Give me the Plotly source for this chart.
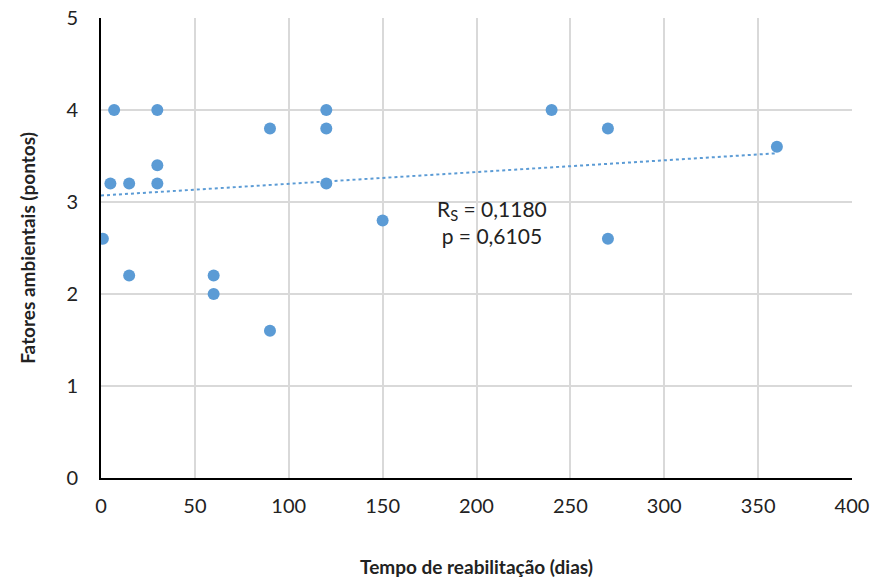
import plotly.graph_objects as go

tempo = [1, 5, 7, 15, 15, 30, 30, 30, 60, 60, 90, 90, 120, 120, 120, 150, 240, 270, 270, 360]
fatores = [2.6, 3.2, 4.0, 3.2, 2.2, 4.0, 3.4, 3.2, 2.2, 2.0, 3.8, 1.6, 4.0, 3.8, 3.2, 2.8, 4.0, 3.8, 2.6, 3.6]
# linear trendline endpoints
trend_x = [0, 360]
trend_y = [3.07, 3.53]
x_ticks = [0, 50, 100, 150, 200, 250, 300, 350, 400]
y_ticks = [0, 1, 2, 3, 4, 5]

FONT = "Lato, 'Liberation Sans Narrow', sans-serif"
BLUE = "#5B9BD5"

fig = go.Figure()
fig.add_trace(go.Scatter(x=trend_x, y=trend_y, mode="lines",
                         line=dict(color=BLUE, width=2, dash="dot"),
                         hoverinfo="skip", showlegend=False))
fig.add_trace(go.Scatter(x=tempo, y=fatores, mode="markers",
                         marker=dict(color=BLUE, size=12), showlegend=False))

fig.add_annotation(x=208, y=2.78, xref="x", yref="y",
                   text="R<sub>S</sub> = 0,1180<br>p = 0,6105",
                   showarrow=False, align="center",
                   font=dict(family=FONT, size=21, color="#222222"))

fig.update_layout(
    width=875, height=583,
    margin=dict(l=101, r=23, t=18, b=105),
    paper_bgcolor="white", plot_bgcolor="white",
    font=dict(family=FONT, color="#222222"),
)
fig.update_xaxes(range=[0, 400], tickvals=x_ticks, ticktext=[str(v) for v in x_ticks],
                 showgrid=True, gridcolor="#D9D9D9", gridwidth=1.5,
                 showline=True, linecolor="black", linewidth=2,
                 zeroline=False, ticks="", ticklabelstandoff=9,
                 tickfont=dict(size=20), automargin=False,
                 title=dict(text="<b>Tempo de reabilitação (dias)</b>", font=dict(size=19), standoff=45))
fig.update_yaxes(range=[0, 5], tickvals=y_ticks, ticktext=[str(v) for v in y_ticks],
                 showgrid=True, gridcolor="#D9D9D9", gridwidth=1.5,
                 showline=True, linecolor="black", linewidth=2,
                 zeroline=False, ticks="", ticklabelstandoff=17,
                 tickfont=dict(size=20), automargin=False,
                 title=dict(text="<b>Fatores ambientais (pontos)</b>", font=dict(size=19), standoff=26))

fig.write_html("out.html", config={"displayModeBar": False},
               post_script="document.body.style.margin='0';")
